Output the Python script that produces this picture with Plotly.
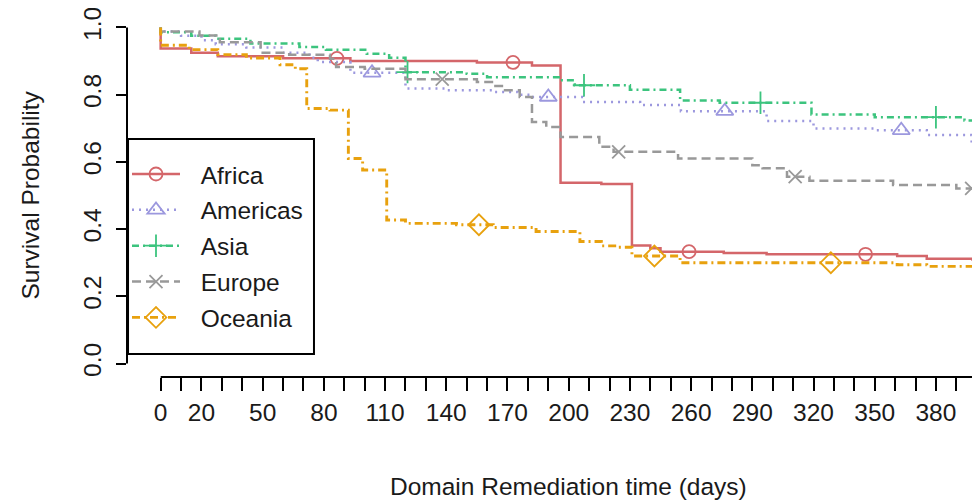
import numpy as np
import plotly.graph_objects as go

# ---------------- data ----------------
regions = ["Africa", "Americas", "Asia", "Europe", "Oceania"]

africa_t = [0, 0, 15, 28, 60, 93, 155, 182, 196, 216, 231, 240, 245, 276, 297, 361, 375.5, 398, 401]
africa_s = [1.0, 0.937, 0.925, 0.914, 0.908, 0.900, 0.896, 0.887, 0.538, 0.534, 0.351, 0.343, 0.333,
            0.329, 0.325, 0.320, 0.312, 0.309, 0.309]

americas_t = [0, 0, 10, 20, 27, 42, 60, 73, 77, 93, 120, 140, 163, 175, 182, 207, 235, 255, 297, 320,
              350, 375.5, 397.5, 401]
americas_s = [1.0, 0.988, 0.975, 0.962, 0.950, 0.940, 0.925, 0.910, 0.897, 0.865, 0.818, 0.813, 0.808,
              0.800, 0.793, 0.778, 0.769, 0.751, 0.722, 0.699, 0.694, 0.680, 0.657, 0.657]

asia_t = [0, 0, 15, 27, 44, 68, 81, 101, 112, 120, 150, 160, 196, 203, 230, 254.6, 274, 319, 350, 394, 401]
asia_s = [1.0, 0.986, 0.975, 0.966, 0.952, 0.942, 0.934, 0.922, 0.910, 0.867, 0.862, 0.852, 0.843,
          0.828, 0.815, 0.783, 0.776, 0.741, 0.733, 0.723, 0.723]

europe_t = [0, 0, 19, 29, 49, 63, 83, 86, 100, 120, 155, 163, 168, 176, 182, 189, 196, 215, 222, 253.6,
            290, 295, 307, 318, 359, 390, 401]
europe_s = [1.0, 0.988, 0.976, 0.956, 0.925, 0.919, 0.907, 0.882, 0.877, 0.846, 0.838, 0.826, 0.813,
            0.793, 0.719, 0.704, 0.674, 0.645, 0.630, 0.610, 0.590, 0.581, 0.556, 0.544, 0.531, 0.521, 0.521]

oceania_t = [0, 0, 14, 28, 42, 58.5, 66, 71.6, 83, 92, 99, 110.8, 120, 145, 163, 184, 205.5, 216, 223.5,
             231, 254.6, 361, 375.5, 401]
oceania_s = [1.0, 0.947, 0.934, 0.919, 0.909, 0.889, 0.877, 0.759, 0.754, 0.610, 0.576, 0.427, 0.417,
             0.413, 0.405, 0.393, 0.363, 0.350, 0.346, 0.320, 0.300, 0.294, 0.289, 0.289]

# times at which the curve symbols are drawn
africa_marks = [86.4, 172.7, 259, 345.5]
americas_marks = [103.6, 190, 276.5, 363]
asia_marks = [121, 207.5, 294, 380]
europe_marks = [138, 224.5, 311, 397.5]
oceania_marks = [156, 242, 328.5]

x_tick_vals = list(range(0, 401, 10))
x_tick_labels = ["0", "20", "50", "80", "110", "140", "170", "200", "230", "260", "290", "320", "350", "380"]
y_tick_vals = [0.0, 0.2, 0.4, 0.6, 0.8, 1.0]
y_tick_labels = ["0.0", "0.2", "0.4", "0.6", "0.8", "1.0"]

# ---------------- styles ----------------
series = {
    "Africa": (africa_t, africa_s, africa_marks),
    "Americas": (americas_t, americas_s, americas_marks),
    "Asia": (asia_t, asia_s, asia_marks),
    "Europe": (europe_t, europe_s, europe_marks),
    "Oceania": (oceania_t, oceania_s, oceania_marks),
}
styles = {
    "Africa": dict(color="#D4666A", dash="solid", width=2.5, symbol="circle-open", size=13),
    "Americas": dict(color="#9C98DE", dash="2px,5px", width=2.5, symbol="triangle-up-open", size=15),
    "Asia": dict(color="#3CC47E", dash="7px,4px,2px,4px", width=2.5, symbol="cross-thin-open", size=16),
    "Europe": dict(color="#999999", dash="9px,5px", width=2.5, symbol="x-thin-open", size=13),
    "Oceania": dict(color="#E8A10E", dash="8px,4px,2px,4px", width=2.9, symbol="diamond-open", size=16),
}

FONT = "Liberation Sans, Arial, sans-serif"
TXT = "#1a1a1a"
FS = 24.5


def surv_at(t, s, x):
    idx = np.searchsorted(np.asarray(t, dtype=float), np.asarray(x, dtype=float), side="right") - 1
    return list(np.asarray(s)[idx])


fig = go.Figure()
for name in regions:
    t, s, marks = series[name]
    st = styles[name]
    fig.add_trace(go.Scatter(
        x=t, y=s, mode="lines", line=dict(color=st["color"], width=st["width"], dash=st["dash"], shape="hv"),
        showlegend=False, legendgroup=name, hoverinfo="skip"))
    fig.add_trace(go.Scatter(
        x=marks, y=surv_at(t, s, marks), mode="markers",
        marker=dict(symbol=st["symbol"], size=st["size"], color=st["color"],
                    line=dict(color=st["color"], width=1.8)),
        showlegend=False, legendgroup=name, hoverinfo="skip"))
    # legend entry
    fig.add_trace(go.Scatter(
        x=[None], y=[None], mode="lines+markers", name="\u00a0\u00a0\u200a" + name, legendgroup=name,
        line=dict(color=st["color"], width=st["width"], dash=st["dash"]),
        marker=dict(symbol=st["symbol"], size=st["size"], color=st["color"],
                    line=dict(color=st["color"], width=1.8))))

x_text = [str(v) if str(v) in x_tick_labels else "" for v in x_tick_vals]

# the page body adds an 8px offset, so the figure is 8px smaller in each direction
fig.update_layout(
    width=972, height=492,
    margin=dict(l=119, r=0, t=6, b=123, autoexpand=False),
    paper_bgcolor="white", plot_bgcolor="white",
    font=dict(family=FONT, size=FS, color=TXT),
    xaxis=dict(range=[-16.5, 401.6], showgrid=False, zeroline=False, showline=False, automargin=False,
               tickmode="array", tickvals=x_tick_vals, ticktext=x_text, ticklabeloverflow="allow",
               ticks="outside", ticklen=13, tickwidth=2, tickcolor="black",
               tickfont=dict(family=FONT, size=FS, color=TXT), ticklabelstandoff=1),
    yaxis=dict(range=[-0.04, 1.04], showgrid=False, zeroline=False, showline=False, automargin=False,
               tickmode="array", tickvals=y_tick_vals, ticktext=y_tick_labels, ticklabeloverflow="allow",
               ticks="outside", ticklen=10, tickwidth=2, tickcolor="black", tickangle=-90,
               tickfont=dict(family=FONT, size=FS, color=TXT), ticklabelstandoff=5),
    legend=dict(x=0.0, y=0.621, xanchor="left", yanchor="top", bgcolor="rgba(0,0,0,0)",
                borderwidth=0, font=dict(family=FONT, size=FS, color=TXT),
                itemwidth=48, tracegroupgap=1),
    shapes=[
        dict(type="rect", xref="paper", yref="paper", x0=0.0012, x1=0.2192, y0=0.0634, y1=0.6556,
             fillcolor="white", line=dict(color="black", width=2), layer="above"),
        dict(type="line", xref="x", yref="paper", x0=0, x1=400, y0=0, y1=0,
             line=dict(color="black", width=2)),
        dict(type="line", xref="paper", yref="y", x0=0, x1=0, y0=0, y1=1,
             line=dict(color="black", width=2)),
    ],
    annotations=[
        dict(text="Survival Probability", xref="paper", yref="paper", x=-0.1137, y=0.5,
             xanchor="center", yanchor="middle",
             textangle=-90, showarrow=False, font=dict(family=FONT, size=FS, color=TXT)),
        dict(text="Domain Remediation time (days)", xref="paper", yref="paper", x=0.517, y=-0.3026,
             xanchor="center", yanchor="middle",
             showarrow=False, font=dict(family=FONT, size=FS, color=TXT)),
    ],
)

fig.write_html("out.html")
